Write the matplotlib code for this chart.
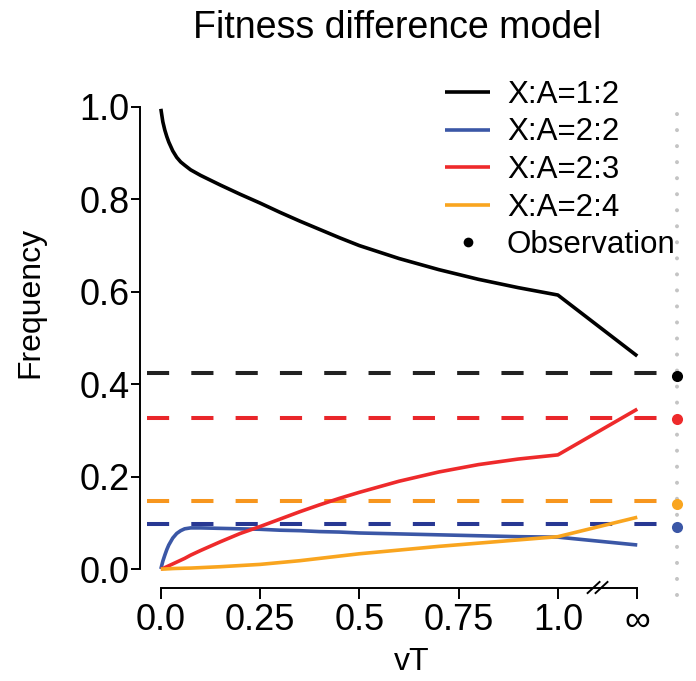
import numpy as np
import matplotlib
matplotlib.use("Agg")
import matplotlib.pyplot as plt

plt.rcParams['font.family'] = ['Liberation Sans', 'DejaVu Sans']

# vT values; the last point of each curve sits at the "infinity" position
vt = [0, 0.005, 0.01, 0.015, 0.02, 0.03, 0.04, 0.05, 0.06, 0.075, 0.1,
      0.15, 0.2, 0.25, 0.3, 0.35, 0.4, 0.45, 0.5, 0.6, 0.7, 0.8, 0.9, 1.0]
INF_POS = 1.2
BREAK_AT = 1.1
OBS_POS = 1.3

freq_12 = [0.996, 0.968, 0.95, 0.936, 0.924, 0.905, 0.891, 0.881, 0.874,
           0.864, 0.852, 0.831, 0.811, 0.792, 0.772, 0.753, 0.735, 0.717,
           0.700, 0.672, 0.648, 0.627, 0.609, 0.593, 0.461]
freq_22 = [0.0, 0.017, 0.030, 0.042, 0.052, 0.067, 0.077, 0.083, 0.087,
           0.089, 0.089, 0.088, 0.087, 0.086, 0.084, 0.083, 0.081, 0.080,
           0.078, 0.076, 0.074, 0.072, 0.070, 0.069, 0.052]
freq_23 = [0.0, 0.001, 0.003, 0.005, 0.007, 0.011, 0.015, 0.019, 0.023,
           0.030, 0.040, 0.059, 0.077, 0.092, 0.108, 0.124, 0.139, 0.153,
           0.166, 0.190, 0.210, 0.226, 0.238, 0.247, 0.346]
freq_24 = [0.0, 0.0, 0.0, 0.0003, 0.0005, 0.001, 0.0013, 0.0015, 0.0018,
           0.002, 0.003, 0.005, 0.0075, 0.010, 0.014, 0.018, 0.023, 0.028,
           0.033, 0.041, 0.049, 0.056, 0.063, 0.07, 0.112]

labels = ["X:A=1:2", "X:A=2:2", "X:A=2:3", "X:A=2:4"]
curve_cols = ["#000000", "#3b57a6", "#ee2a2b", "#f9a51f"]
dash_cols = ["#222222", "#283893", "#e9262a", "#f7961e"]
observed = [0.417, 0.091, 0.325, 0.140]
expected = [0.425, 0.097, 0.327, 0.147]

xticks = [0, 0.25, 0.5, 0.75, 1.0, INF_POS]
xticklabels = ["0.0", "0.25", "0.5", "0.75", "1.0", "\u221e"]
yticks = [0.0, 0.2, 0.4, 0.6, 0.8, 1.0]

W, H = 696, 681
fig = plt.figure(figsize=(W / 100, H / 100), dpi=100)
ax = fig.add_axes([140.2 / W, 1 - 587.5 / H, 557.4 / W, 499 / H])
ax.set_xlim(-0.052, 1.352)
ax.set_ylim(-0.04, 1.04)

x = vt + [INF_POS]
series = [freq_12, freq_22, freq_23, freq_24]

# expected (dashed) lines first so curves sit on top
for e, c in zip(expected, dash_cols):
    ax.plot([-0.035, OBS_POS], [e, e], color=c, lw=2.9,
            ls=(0, (5.5, 5.5)), clip_on=False, zorder=2)

for s, c, lab in zip(series, curve_cols, labels):
    ax.plot(x, s, color=c, lw=2.6, label=lab, zorder=3,
            solid_capstyle='butt', solid_joinstyle='round')

# grey dotted separator and observations
ax.plot([OBS_POS, OBS_POS], [-0.056, 1.01], color="#c4c4c4", lw=2.9,
        ls=(0, (0.01, 3.97)), dash_capstyle='round', clip_on=False, zorder=1)
for o, c in zip(observed, curve_cols):
    ax.plot([OBS_POS], [o], 'o', color=c, ms=8, mec='none',
            clip_on=False, zorder=4)
ax.plot([], [], 'o', color='black', ms=7, mec='none', label="Observation")

for side in ['top', 'right']:
    ax.spines[side].set_visible(False)
ax.spines['left'].set_bounds(0, 1)
ax.spines['bottom'].set_bounds(0, INF_POS)
for side in ['left', 'bottom']:
    ax.spines[side].set_linewidth(1.4)

ax.set_xticks(xticks)
ax.set_xticklabels(xticklabels)
ax.set_yticks(yticks)
ax.set_yticklabels([f"{v:.1f}" for v in yticks])
ax.tick_params(axis='x', length=8, width=1.4, pad=3.5, labelsize=26)
ax.tick_params(axis='y', length=6.5, width=1.4, pad=1, labelsize=26)

# axis break marks
for dx in (-0.01, 0.01):
    cx = BREAK_AT + dx
    ax.plot([cx - 0.015, cx + 0.015], [-0.052, -0.028], color='black',
            lw=1.4, clip_on=False, zorder=5)

ax.legend(loc='upper left', bbox_to_anchor=(445 / W, 1 - 80 / H),
          bbox_transform=fig.transFigure, frameon=False, fontsize=22.5,
          borderpad=0, borderaxespad=0, handlelength=1.44,
          handletextpad=0.54, labelspacing=0.24, numpoints=1)

fig.text(397 / W, 1 - 28 / H, "Fitness difference model", ha='center',
         va='center', fontsize=27)
fig.text(30 / W, 1 - 302 / H, "Frequency", ha='center', va='center',
         rotation=90, fontsize=23)
fig.text(412 / W, 1 - 662 / H, "vT", ha='center', va='center', fontsize=23)

fig.savefig("out.png", dpi=100)
